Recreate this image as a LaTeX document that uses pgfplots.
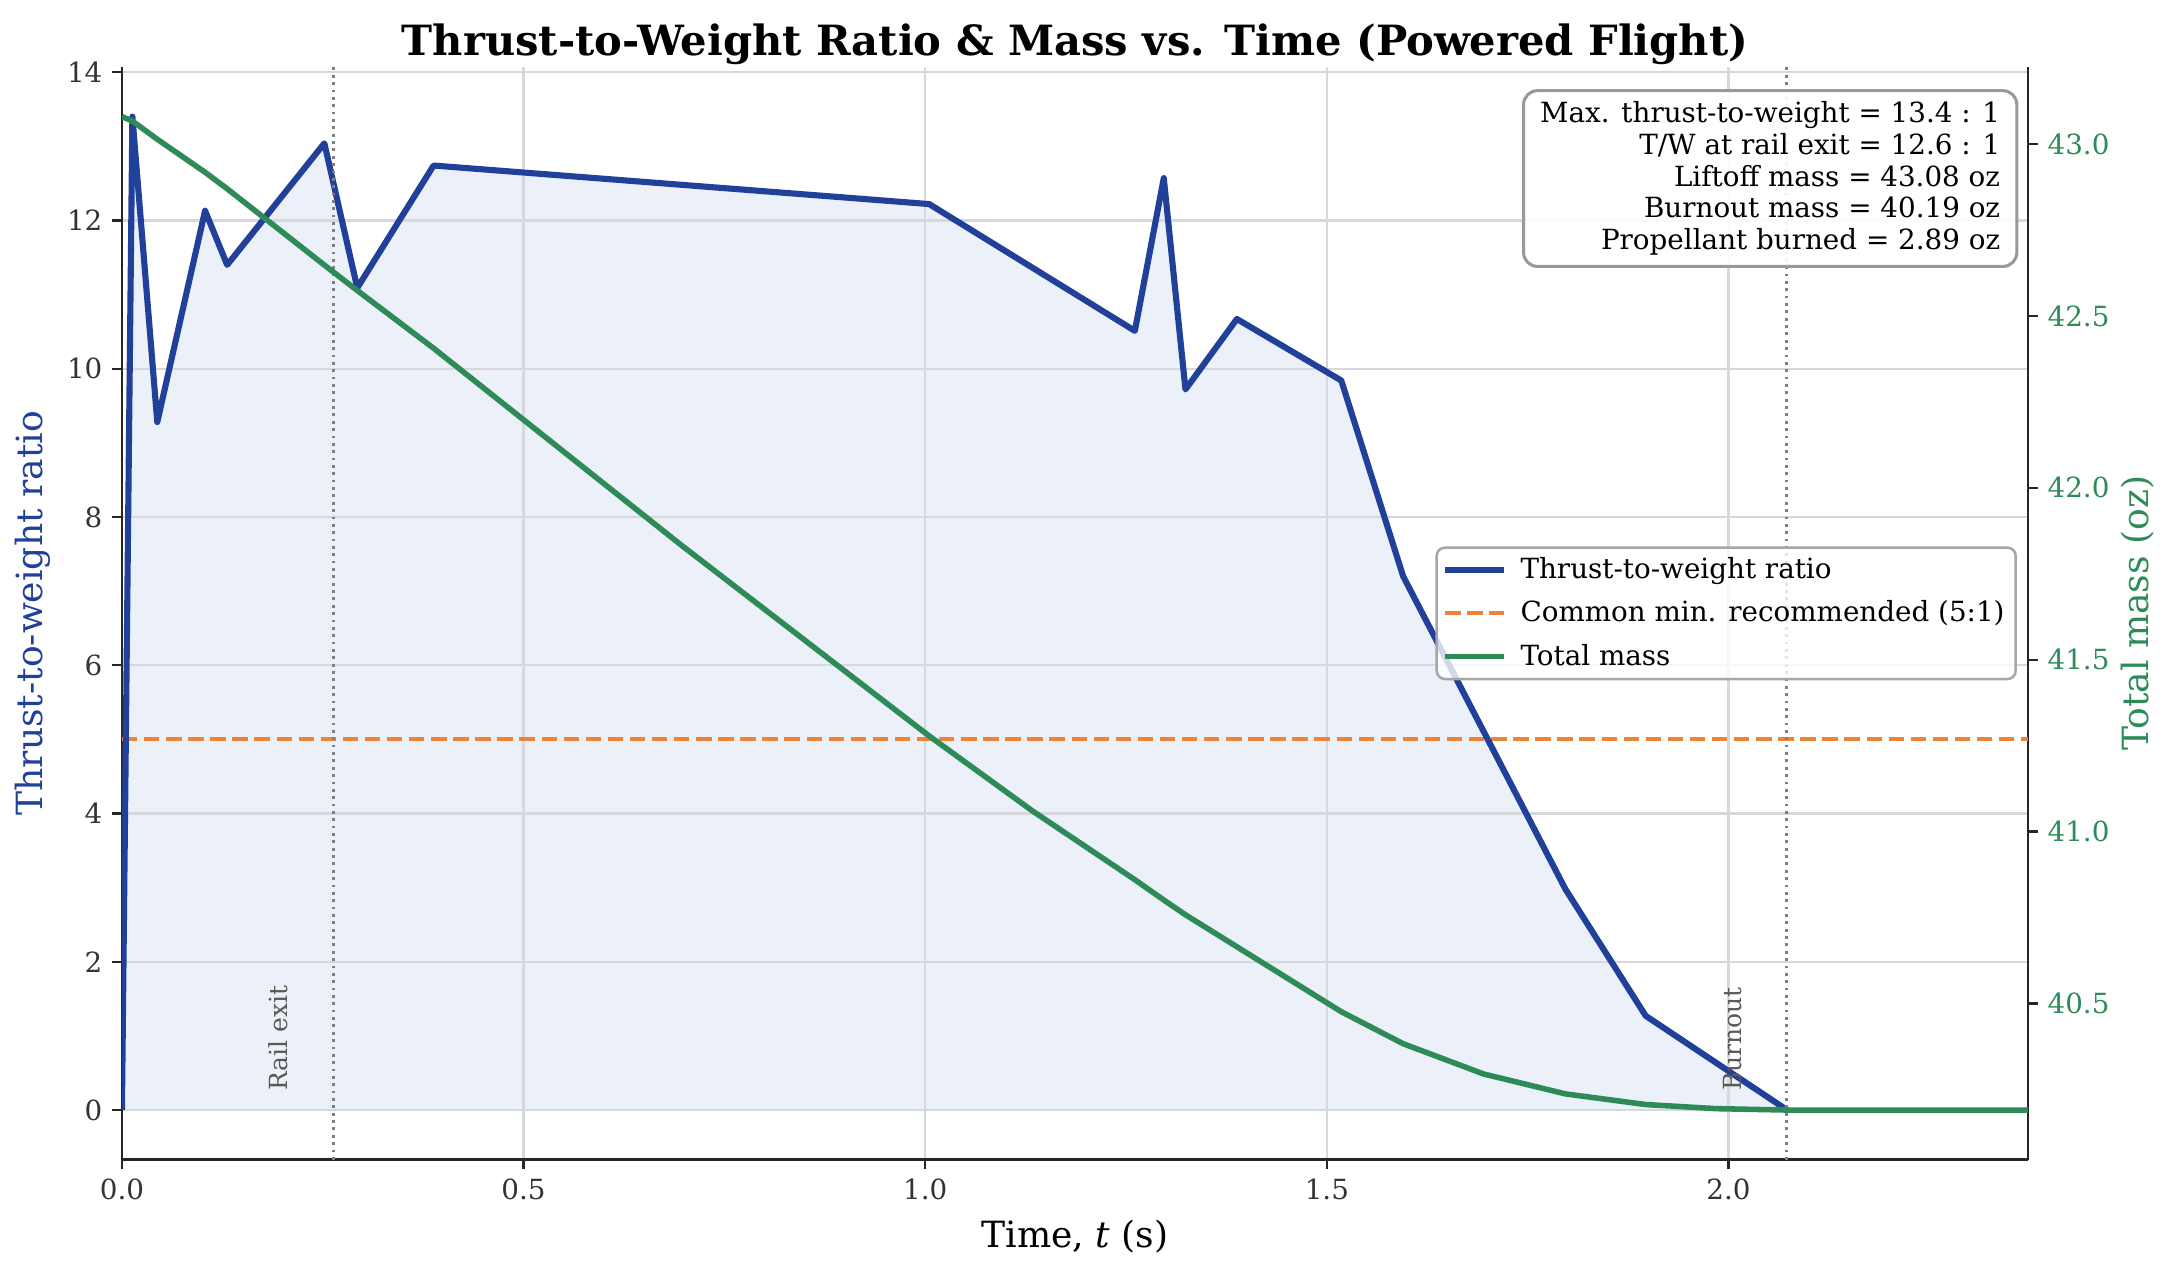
\documentclass[border=0pt]{standalone}
\usepackage{fontspec}
\setmainfont{DejaVu Serif}
\usepackage{pgfplots}
\pgfplotsset{compat=1.18}
\usepackage{pgfplotstable}
\definecolor{twblue}{RGB}{33,64,154}
\definecolor{twfill}{RGB}{236,240,249}
\definecolor{massgreen}{RGB}{46,139,87}
\definecolor{minorange}{RGB}{238,130,55}
\definecolor{gridgray}{RGB}{215,216,222}

\pgfplotstableread{
t tw
0 0
0.013 13.4
0.044 9.28
0.1035 12.13
0.131 11.40
0.252 13.04
0.293 11.09
0.388 12.74
1.005 12.22
1.261 10.51
1.297 12.57
1.324 9.72
1.388 10.67
1.518 9.84
1.595 7.20
1.797 2.98
1.897 1.27
2.073 0
}\twdata

\pgfplotstableread{
t m
0 43.080
0.013 43.067
0.044 43.014
0.1035 42.918
0.131 42.870
0.252 42.648
0.293 42.574
0.388 42.406
0.6965 41.833
1.005 41.278
1.133 41.061
1.261 40.860
1.297 40.801
1.324 40.758
1.388 40.665
1.518 40.476
1.595 40.383
1.695 40.295
1.797 40.237
1.897 40.206
1.985 40.194
2.073 40.190
2.373 40.190
}\massdata

\begin{document}
\begin{tikzpicture}
\pgfplotsset{set layers}
\pgfplotsset{
  common/.style={
    scale only axis, width=686.2pt, height=393.4pt,
    xmin=0, xmax=2.373,
    /pgf/number format/assume math mode=true,
    tick align=outside, major tick length=3.5pt,
    tick style={black!85, line width=0.8pt},
    axis line style={-, black!85, line width=0.9pt},
    ticklabel style={font=\fontsize{10}{12}\selectfont, text=black!80},
    legend image code/.code={\draw[##1] (0pt,0pt) -- (21pt,0pt);},
  }
}
\begin{axis}[common,
  axis x line*=bottom, axis y line*=left,
  ymin=-0.67, ymax=14.07,
  xtick={0,0.5,1,1.5,2}, ytick={0,2,4,6,8,10,12,14},
  xticklabel style={/pgf/number format/fixed, /pgf/number format/fixed zerofill, /pgf/number format/precision=1},
  grid=major, major grid style={gridgray, line width=0.8pt},
  xlabel={Time, \textit{t} (s)}, ylabel={Thrust-to-weight ratio},
  every axis x label/.style={at={([yshift=-27.5pt]axis description cs:0.5,0)}, anchor=center, font=\fontsize{13}{15}\selectfont},
  every axis y label/.style={at={([xshift=-32pt]axis description cs:0,0.5)}, anchor=center, rotate=90, font=\fontsize{13}{15}\selectfont, text=twblue},
  title={Thrust-to-Weight Ratio \& Mass vs. Time (Powered Flight)},
  every axis title/.style={at={([yshift=8pt]axis description cs:0.5,1)}, anchor=center, font=\bfseries\fontsize{15}{18}\selectfont},
]
\addplot[draw=none, fill=twfill, on layer=axis background] table[x=t,y=tw]{\twdata} \closedcycle;
\addplot[minorange, line width=1.5pt, dash pattern=on 5.55pt off 2.4pt] coordinates {(0,5) (2.373,5)};
\addplot[twblue, line width=2.2pt, line join=round] table[x=t,y=tw]{\twdata};
\addplot[gray, line width=1pt, dash pattern=on 1pt off 1.65pt] coordinates {(0.2634,-0.67) (0.2634,14.07)};
\addplot[gray, line width=1pt, dash pattern=on 1pt off 1.65pt] coordinates {(2.0727,-0.67) (2.0727,14.07)};
\node[rotate=90, anchor=west, inner sep=0pt, text=black!65, font=\fontsize{9}{11}\selectfont] at (axis cs:0.195,0.25) {Rail exit};
\node[rotate=90, anchor=west, inner sep=0pt, text=black!65, font=\fontsize{9}{11}\selectfont] at (axis cs:2.005,0.25) {Burnout};
\end{axis}
\begin{axis}[common,
  axis x line=none, axis y line*=right,
  ymin=40.0455, ymax=43.2245,
  ytick={40.5,41,41.5,42,42.5,43},
  yticklabel style={text=massgreen, /pgf/number format/fixed, /pgf/number format/fixed zerofill, /pgf/number format/precision=1},
  ylabel={Total mass (oz)},
  every axis y label/.style={at={([xshift=39.5pt]axis description cs:1,0.5)}, anchor=center, rotate=90, font=\fontsize{13}{15}\selectfont, text=massgreen},
  legend cell align=left,
  legend style={at={([xshift=-4pt]rel axis cs:1,0.5)}, anchor=east, draw=black!35, line width=0.9pt, rounded corners=3pt, fill=white, fill opacity=0.8, text opacity=1, font=\fontsize{10}{12}\selectfont, inner xsep=2pt, inner ysep=1.5pt, row sep=2.5pt, /tikz/every odd column/.append style={column sep=3pt}},
]
\addlegendimage{twblue, line width=2.2pt}
\addlegendentry{Thrust-to-weight ratio}
\addlegendimage{minorange, line width=1.5pt, dash pattern=on 5.55pt off 2.4pt}
\addlegendentry{Common min. recommended (5:1)}
\addplot[massgreen, line width=2.0pt, line join=round] table[x=t,y=m]{\massdata};
\addlegendentry{Total mass}
\node[anchor=north east, draw=black!40, line width=1.1pt, rounded corners=5pt, fill=white, fill opacity=0.9, text opacity=1, align=right, inner xsep=6pt, inner ysep=4pt, font=\fontsize{10}{11.4}\selectfont] at ([xshift=-3.5pt,yshift=-8pt]rel axis cs:1,1) {Max. thrust-to-weight = 13.4 : 1\\ T/W at rail exit = 12.6 : 1\\ Liftoff mass = 43.08 oz\\ Burnout mass = 40.19 oz\\ Propellant burned = 2.89 oz};
\end{axis}
\pgfresetboundingbox
\path[use as bounding box] (-43.9pt,-41.9pt) rectangle (739.1pt,417.5pt);
\end{tikzpicture}
\end{document}
